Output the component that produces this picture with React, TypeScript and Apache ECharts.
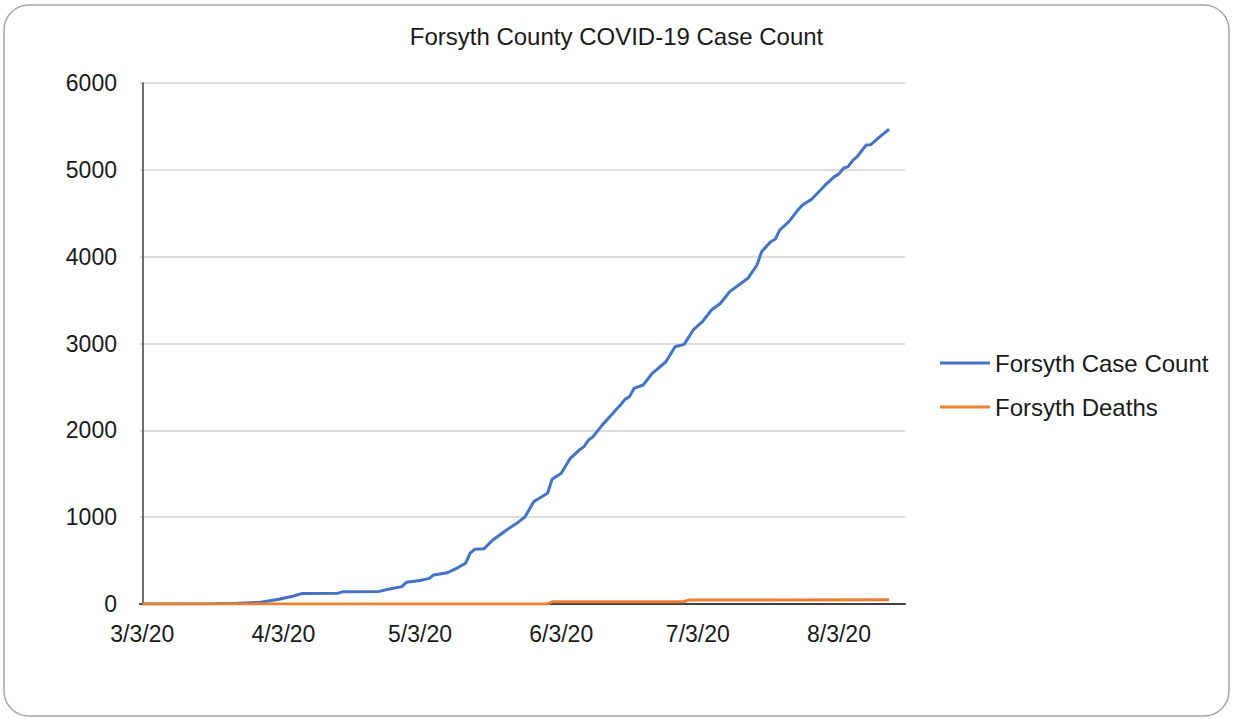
import React, { useEffect, useRef } from "react";
import * as echarts from "echarts";

const chartTitle = "Forsyth County COVID-19 Case Count";
const seriesNames = ["Forsyth Case Count", "Forsyth Deaths"];

const caseDates = [
  "3/3/20", "3/19/20", "3/24/20", "3/29/20", "4/2/20", "4/5/20", "4/7/20", "4/15/20", "4/16/20",
  "4/24/20", "4/26/20", "4/29/20", "4/30/20", "5/3/20", "5/5/20", "5/6/20", "5/9/20", "5/11/20",
  "5/13/20", "5/14/20", "5/15/20", "5/17/20", "5/19/20", "5/22/20", "5/24/20", "5/26/20", "5/28/20",
  "5/31/20", "6/1/20", "6/3/20", "6/5/20", "6/7/20", "6/8/20", "6/9/20", "6/10/20", "6/12/20",
  "6/15/20", "6/16/20", "6/17/20", "6/18/20", "6/19/20", "6/21/20", "6/23/20", "6/26/20", "6/28/20",
  "6/30/20", "7/2/20", "7/4/20", "7/6/20", "7/8/20", "7/10/20", "7/12/20", "7/14/20", "7/16/20",
  "7/17/20", "7/19/20", "7/20/20", "7/21/20", "7/23/20", "7/25/20", "7/26/20", "7/28/20", "7/31/20",
  "8/2/20", "8/3/20", "8/4/20", "8/5/20", "8/6/20", "8/7/20", "8/9/20", "8/10/20", "8/12/20", "8/14/20",
];
const caseValues = [
  0, 2, 10, 20, 55, 90, 120, 125, 140,
  145, 170, 200, 250, 270, 295, 335, 360, 410,
  470, 585, 630, 635, 737, 852, 920, 1000, 1180,
  1275, 1436, 1505, 1678, 1774, 1812, 1889, 1927, 2060,
  2234, 2292, 2357, 2388, 2484, 2522, 2657, 2790, 2963,
  2990, 3156, 3251, 3386, 3463, 3597, 3674, 3751, 3904,
  4057, 4172, 4200, 4307, 4403, 4538, 4595, 4661, 4826,
  4922, 4953, 5018, 5037, 5106, 5152, 5286, 5290, 5382, 5467,
];

const deathDates = ["3/3/20", "5/31/20", "6/1/20", "6/30/20", "7/1/20", "8/14/20"];
const deathValues = [0, 0, 25, 27, 45, 50];

const xTickDates = ["3/3/20", "4/3/20", "5/3/20", "6/3/20", "7/3/20", "8/3/20"];
const yMin = 0;
const yMax = 6000;
const yStep = 1000;

const BASE = Date.UTC(2020, 2, 3);
function dayIndex(s: string): number {
  const [m, d, y] = s.split("/").map(Number);
  return Math.round((Date.UTC(2000 + y, m - 1, d) - BASE) / 86400000);
}

const FONT = "'Liberation Sans', Arial, sans-serif";

export default function App() {
  const ref = useRef<HTMLDivElement>(null);

  useEffect(() => {
    if (!ref.current) return;
    const chart = echarts.init(ref.current, undefined, { renderer: "svg" });
    const tickMap: Record<number, string> = {};
    xTickDates.forEach((s) => (tickMap[dayIndex(s)] = s));

    chart.setOption({
      animation: false,
      backgroundColor: "#ffffff",
      title: {
        text: chartTitle,
        left: "center",
        top: 19,
        textStyle: { fontFamily: FONT, fontSize: 24, fontWeight: "normal", color: "#1a1a1a" },
      },
      legend: {
        orient: "vertical",
        left: 935,
        top: 346,
        itemWidth: 50,
        itemHeight: 3,
        itemGap: 20,
        icon: "rect",
        data: seriesNames,
        textStyle: { fontFamily: FONT, fontSize: 24, color: "#1a1a1a" },
      },
      grid: { left: 140, right: 328, top: 83, bottom: 115, outerBoundsMode: "none" },
      xAxis: {
        type: "value",
        min: -0.5,
        max: 167.5,
        axisLine: { show: true, onZero: false, lineStyle: { color: "#404040", width: 2 } },
        axisTick: { show: false },
        splitLine: { show: false },
        axisLabel: {
          customValues: xTickDates.map(dayIndex),
          formatter: (v: number) => tickMap[Math.round(v)] ?? "",
          fontFamily: FONT,
          fontSize: 23,
          color: "#1a1a1a",
          margin: 18,
        },
      },
      yAxis: {
        type: "value",
        min: yMin,
        max: yMax,
        interval: yStep,
        axisLine: { show: true, lineStyle: { color: "#404040", width: 1.5 } },
        axisTick: { show: false },
        splitLine: { show: true, lineStyle: { color: "#D0D0D0", width: 1.5 } },
        axisLabel: {
          formatter: (v: number) => String(v),
          fontFamily: FONT,
          fontSize: 23,
          color: "#1a1a1a",
          margin: 23,
        },
      },
      series: [
        {
          name: seriesNames[0],
          type: "line",
          data: caseDates.map((d, i) => [dayIndex(d), caseValues[i]]),
          showSymbol: false,
          symbol: "none",
          lineStyle: { color: "#4472C4", width: 3 },
          itemStyle: { color: "#4472C4" },
          z: 2,
        },
        {
          name: seriesNames[1],
          type: "line",
          data: deathDates.map((d, i) => [dayIndex(d), deathValues[i]]),
          showSymbol: false,
          symbol: "none",
          lineStyle: { color: "#ED7D31", width: 3 },
          itemStyle: { color: "#ED7D31" },
          z: 3,
        },
      ],
      graphic: [
        {
          type: "rect",
          silent: true,
          shape: { x: 4, y: 5, width: 1225, height: 711, r: 25 },
          style: { fill: "none", stroke: "#A6A6A6", lineWidth: 1.5 },
        },
      ],
    });
    return () => chart.dispose();
  }, []);

  return (
    <div
      ref={ref}
      style={{ position: "absolute", left: 0, top: 0, width: 1233, height: 719 }}
    />
  );
}
